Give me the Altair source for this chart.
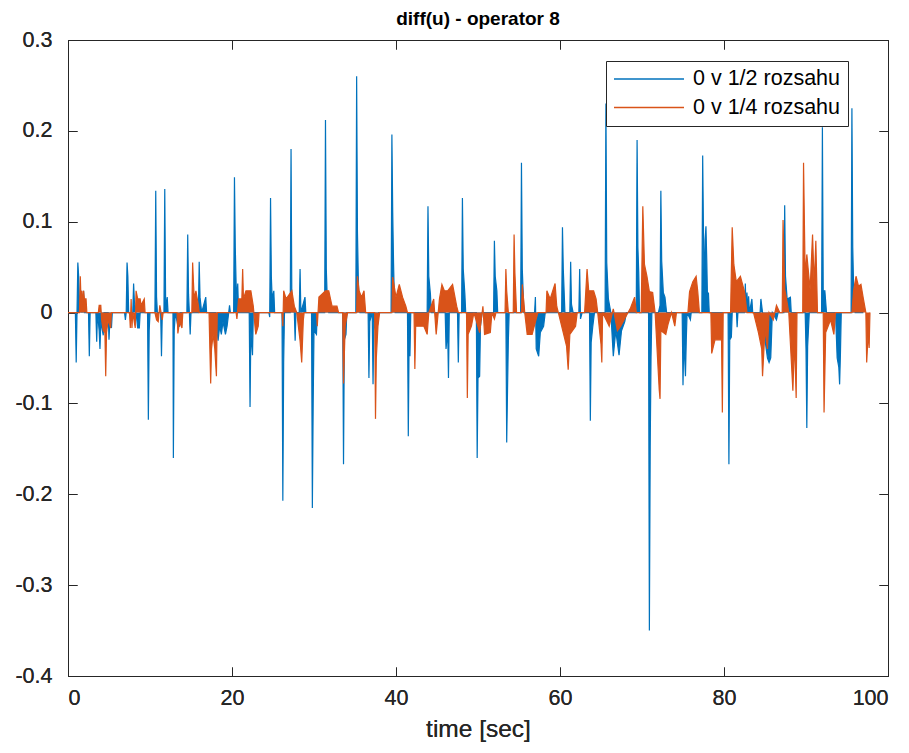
import altair as alt
import pandas as pd

# (time [s], value) samples
blue_pts = [
    (0.0, 0), (0.9, 0), (1.0, -0.055), (1.1, 0), (1.2, 0.055), (1.3, 0.04), (1.4, 0.01), (1.6, 0.024), (1.7, 0), (1.9, 0.024), (2.0, 0),
    (2.5, 0), (2.6, -0.048), (2.7, 0), (3.4, 0), (3.5, -0.032), (3.6, 0), (3.8, -0.02), (3.9, -0.04), (4.0, -0.01), (4.3, -0.025), (4.4, 0),
    (4.9, 0), (5.0, -0.03), (5.1, -0.01), (5.3, -0.017), (5.4, 0), (6.9, 0), (7.0, -0.008), (7.1, 0), (7.2, 0.055), (7.3, 0.04), (7.4, 0),
    (7.9, 0), (8.0, 0.032), (8.1, 0.012), (8.3, 0), (8.5, -0.017), (8.7, -0.017), (8.8, 0), (9.7, 0), (9.8, -0.118), (9.9, -0.02), (10.0, 0),
    (10.6, 0), (10.7, 0.134), (10.8, 0.017), (10.9, 0), (11.3, 0), (11.4, -0.048), (11.5, 0), (11.7, 0), (11.8, 0.136), (11.9, 0.017),
    (12.0, 0.005), (12.1, 0.017), (12.2, 0), (12.8, 0), (12.85, -0.16), (12.95, -0.02), (13.1, 0), (13.4, -0.015), (13.6, -0.015), (13.7, 0),
    (14.5, 0), (14.6, 0.086), (14.7, 0.02), (14.8, 0), (14.9, -0.024), (15.0, 0), (15.9, 0), (16.0, 0.056), (16.1, 0.017), (16.3, 0),
    (16.8, 0.017), (16.9, 0), (18.0, 0), (18.3, -0.031), (18.5, -0.015), (18.7, -0.024), (18.9, -0.01), (19.2, -0.024), (19.4, -0.015),
    (19.6, 0), (19.7, 0.008), (19.8, 0), (20.2, 0), (20.3, 0.149), (20.4, 0.072), (20.5, 0.032), (20.6, 0.015), (20.7, 0.032), (20.8, 0),
    (22.1, 0), (22.2, -0.104), (22.3, -0.02), (22.5, -0.047), (22.6, 0), (24.5, 0), (24.6, -0.005), (24.7, 0.126), (24.8, 0.039),
    (24.9, 0.015), (25.1, 0.024), (25.2, 0), (26.1, 0), (26.2, -0.207), (26.3, -0.055), (26.4, 0), (27.1, 0), (27.2, 0.18), (27.3, 0.01),
    (27.6, 0), (27.7, -0.031), (27.8, 0), (28.2, 0), (28.3, 0.048), (28.4, 0), (28.9, 0.017), (29.0, 0), (29.7, 0), (29.8, -0.215),
    (29.9, -0.1), (30.0, -0.02), (30.3, -0.024), (30.4, 0), (31.3, 0), (31.4, 0.212), (31.5, 0.048), (31.6, 0.02), (31.8, 0),
    (33.5, 0), (33.6, -0.167), (33.7, -0.03), (33.9, -0.024), (34.0, 0), (35.1, 0), (35.2, 0.26), (35.3, 0.088), (35.4, 0.04),
    (35.5, 0.005), (35.6, 0), (36.6, 0), (36.7, -0.072), (36.8, -0.01), (37.1, 0), (37.2, -0.079), (37.3, -0.01), (37.6, -0.024),
    (37.8, -0.008), (37.9, 0), (39.4, 0), (39.5, 0.196), (39.6, 0.11), (39.7, 0.055), (39.8, 0.015), (39.9, 0), (41.4, 0),
    (41.5, -0.136), (41.6, -0.03), (41.7, -0.048), (41.8, 0), (43.8, 0), (43.9, 0.117), (44.0, 0.04), (44.2, 0.02), (44.3, 0),
    (46.0, 0), (46.1, -0.04), (46.3, -0.02), (46.4, -0.072), (46.5, 0), (47.5, 0), (47.6, -0.055), (47.7, 0), (48.0, 0), (48.1, 0.126),
    (48.2, 0.048), (48.4, 0.02), (48.5, 0), (49.8, 0), (49.9, -0.16), (50.0, -0.072), (50.2, -0.07), (50.3, -0.015), (50.5, 0),
    (51.9, 0), (52.0, 0.079), (52.1, 0.04), (52.3, 0.024), (52.4, 0), (53.4, 0), (53.5, -0.143), (53.6, -0.086), (53.7, -0.031),
    (53.8, 0), (55.2, 0), (55.3, 0.165), (55.4, 0.048), (55.6, 0), (56.9, 0), (57.0, 0.017), (57.1, -0.04), (57.4, -0.048),
    (57.6, -0.022), (58.0, -0.015), (58.2, 0), (60.2, 0), (60.3, 0.094), (60.4, 0.048), (60.6, 0), (61.2, 0), (61.3, 0.056),
    (61.4, 0.009), (61.6, 0), (62.3, 0), (62.4, 0.048), (62.5, -0.007), (62.7, 0), (63.6, 0), (63.7, -0.119), (63.8, -0.033),
    (64.0, -0.015), (64.2, 0), (65.5, 0), (65.6, 0.23), (65.7, 0.055), (65.9, 0.015), (66.2, 0), (66.5, -0.048), (66.8, -0.02),
    (67.2, -0.047), (67.5, -0.02), (67.9, -0.01), (68.1, 0), (69.3, 0), (69.4, 0.19), (69.5, 0.072), (69.6, 0.045), (69.7, 0),
    (70.8, 0), (70.9, -0.35), (71.0, -0.148), (71.1, -0.05), (71.2, 0), (72.0, 0), (72.2, 0.008), (72.3, 0.134), (72.4, 0.057),
    (72.6, 0.022), (72.8, 0.017), (73.0, 0), (74.9, 0), (75.0, -0.08), (75.1, -0.03), (75.3, -0.07), (75.4, -0.03), (75.5, 0),
    (75.9, -0.008), (76.0, 0), (77.3, 0), (77.4, 0.173), (77.5, 0.087), (77.6, 0.02), (77.7, 0.08), (77.8, 0.095), (77.9, 0.057),
    (78.0, 0.01), (78.1, 0.022), (78.2, 0), (80.5, 0), (80.6, -0.167), (80.7, -0.03), (80.9, -0.027), (81.0, 0), (81.4, 0.024),
    (81.6, -0.016), (81.7, 0), (82.5, 0), (82.6, 0.032), (82.7, 0), (82.8, 0.022), (82.9, 0), (83.0, 0.018), (83.1, 0), (83.4, 0.015),
    (83.5, 0), (84.4, 0), (84.5, 0.015), (84.7, 0), (85.0, -0.03), (85.3, -0.05), (85.5, -0.055), (85.7, -0.05), (85.9, 0),
    (86.4, -0.008), (86.6, 0), (87.3, 0), (87.4, 0.118), (87.5, 0.04), (87.7, 0.015), (88.1, 0.017), (88.2, 0), (89.9, 0),
    (90.0, -0.04), (90.1, -0.127), (90.2, -0.037), (90.4, 0), (91.9, 0), (92.0, 0.204), (92.1, 0.024), (92.3, 0.024), (92.5, 0),
    (93.6, 0), (93.8, -0.05), (94.0, -0.06), (94.1, -0.079), (94.2, -0.045), (94.3, 0), (95.5, 0), (95.6, 0.225), (95.7, 0.072),
    (95.8, 0.03), (96.0, 0), (97.0, 0),
]

orange_pts = [
    (0.0, 0), (1.4, 0), (1.5, 0.04), (1.6, 0.01), (1.7, 0.024), (1.8, 0.007), (1.9, 0.024), (2.0, 0.015), (2.2, 0.015), (2.3, 0),
    (3.7, 0), (3.8, 0.008), (4.0, 0.008), (4.1, -0.008), (4.3, -0.02), (4.5, -0.022), (4.6, -0.07), (4.7, -0.022), (4.9, -0.008),
    (5.2, -0.017), (5.3, 0), (7.5, 0), (7.6, -0.017), (7.7, 0.015), (7.8, -0.017), (7.9, 0), (8.2, -0.017), (8.3, 0.024), (8.5, 0.015),
    (8.8, 0.015), (8.9, 0.008), (9.3, 0.015), (9.4, 0), (10.6, 0), (10.8, -0.008), (11.0, -0.01), (11.2, 0.008), (11.5, -0.008),
    (11.6, 0), (13.3, 0), (13.4, -0.023), (13.6, -0.01), (13.9, -0.017), (14.0, 0), (15.1, 0), (15.2, 0.055), (15.3, 0.033),
    (15.4, 0.015), (15.6, 0.024), (15.9, 0.008), (16.0, 0), (17.2, 0), (17.3, -0.04), (17.4, -0.078), (17.5, -0.04), (17.7, -0.024),
    (17.9, -0.04), (18.1, -0.07), (18.2, 0), (20.5, 0), (20.6, -0.007), (20.8, 0.015), (21.2, 0.015), (21.3, 0.048), (21.4, 0.015),
    (21.7, 0.024), (22.3, 0.024), (22.6, 0.007), (22.8, -0.015), (22.9, -0.024), (23.2, -0.015), (23.3, 0), (26.1, 0), (26.2, -0.015),
    (26.3, 0.024), (26.6, 0.015), (27.3, 0.024), (27.6, 0.007), (27.9, 0), (28.3, -0.031), (28.5, -0.055), (28.7, -0.008), (28.8, 0),
    (30.3, 0), (30.4, -0.015), (30.6, 0.017), (31.4, 0.024), (31.8, 0.024), (32.2, 0.007), (32.8, 0.007), (33.0, 0), (33.5, 0),
    (33.6, -0.078), (33.8, -0.015), (34.1, 0), (35.2, 0), (35.3, 0.04), (35.5, 0.024), (35.8, 0.017), (36.1, 0.024), (36.3, 0),
    (37.4, 0), (37.5, -0.117), (37.6, -0.05), (37.8, -0.015), (38.0, 0), (39.5, 0), (39.6, 0.039), (40.0, 0.017), (40.4, 0.031),
    (40.8, 0.017), (41.2, 0.007), (41.4, 0), (42.2, 0), (42.3, -0.062), (42.4, -0.015), (42.8, -0.015), (43.4, -0.015), (43.8, -0.024),
    (44.0, 0), (44.6, 0.015), (44.9, -0.024), (45.3, 0.015), (45.6, 0.031), (45.9, 0.024), (46.3, 0.024), (46.9, 0.031), (47.4, 0.007),
    (47.6, 0), (48.6, 0), (48.7, -0.094), (48.8, -0.024), (49.2, -0.015), (49.5, 0), (50.2, -0.022), (50.6, 0.007), (50.8, -0.024),
    (51.5, -0.022), (51.7, 0), (52.0, -0.007), (52.2, 0), (53.3, 0), (53.4, 0.048), (53.5, 0.024), (53.7, 0), (54.3, 0), (54.4, 0.086),
    (54.5, 0.044), (54.7, 0), (55.3, 0), (55.4, 0.031), (55.7, 0), (56.0, -0.024), (56.6, -0.024), (57.1, -0.007), (57.3, 0), (58.3, 0),
    (58.4, 0.024), (58.8, 0.015), (59.4, 0.032), (59.6, 0.007), (59.8, 0), (60.8, -0.037), (61.0, -0.063), (61.2, -0.024), (61.9, -0.015),
    (62.1, 0), (63.0, 0), (63.3, 0.048), (63.5, 0.024), (64.1, 0.024), (64.4, 0.015), (64.6, 0), (65.0, -0.035), (65.1, -0.055),
    (65.2, 0), (66.0, -0.015), (66.5, 0.004), (67.0, -0.02), (67.4, -0.015), (68.3, 0), (68.6, 0.005), (69.1, 0.017), (69.3, 0),
    (69.9, 0), (70.1, 0.117), (70.3, 0.053), (70.6, 0.04), (70.9, 0.023), (71.3, 0.022), (71.6, 0), (72.1, -0.085), (72.2, -0.095),
    (72.3, -0.02), (72.6, -0.022), (72.9, -0.024), (73.2, -0.012), (73.6, 0), (74.0, -0.015), (74.2, 0), (75.6, 0), (75.8, 0.023),
    (76.2, 0.034), (76.6, 0.04), (76.8, 0.023), (77.0, 0), (78.4, 0), (78.5, -0.045), (78.9, -0.03), (79.5, -0.03), (79.7, -0.03),
    (79.8, -0.11), (79.9, 0), (80.8, 0), (81.0, 0.094), (81.2, 0.053), (81.5, 0.034), (82.0, 0.04), (82.5, 0.023), (82.8, 0),
    (83.6, 0), (84.2, -0.022), (84.6, -0.04), (84.7, -0.07), (85.0, -0.018), (85.3, -0.04), (85.5, 0), (86.0, -0.008), (86.4, 0.008),
    (86.8, 0), (87.1, 0), (87.2, 0.102), (87.4, 0.026), (87.7, 0.011), (87.9, 0), (88.4, -0.086), (88.6, -0.03), (88.8, -0.094),
    (88.9, 0), (89.6, 0), (89.7, 0.165), (89.9, 0.04), (90.1, 0.064), (90.5, 0.025), (90.8, 0.086), (91.0, 0.03), (91.2, 0.079),
    (91.4, 0), (92.1, 0), (92.2, -0.11), (92.4, -0.022), (93.0, -0.008), (93.4, -0.024), (93.6, 0), (95.6, 0), (95.8, 0.024),
    (96.1, 0.04), (96.4, 0.029), (96.7, 0.031), (97.0, 0.015), (97.3, 0), (97.4, -0.055), (97.6, -0.02), (97.7, -0.039), (97.8, 0),
]

series_names = ["0 v 1/2 rozsahu", "0 v 1/4 rozsahu"]
series_colors = ["#0072BD", "#D95319"]
x_ticks = [0, 20, 40, 60, 80, 100]
y_ticks = [-0.4, -0.3, -0.2, -0.1, 0, 0.1, 0.2, 0.3]

df_blue = pd.DataFrame({"t": [p[0] for p in blue_pts], "v": [p[1] for p in blue_pts], "s": series_names[0]})
df_orange = pd.DataFrame({"t": [p[0] for p in orange_pts], "v": [p[1] for p in orange_pts], "s": series_names[1]})

FONT = "Liberation Sans"
AX = "#262626"
TICK = 9

xscale = alt.Scale(domain=[0, 100], nice=False, zero=False)
yscale = alt.Scale(domain=[-0.4, 0.3], nice=False, zero=False)


def make_legend():
    return alt.Legend(
        orient="none", legendX=538, legendY=21, fillColor="white", strokeColor=AX,
        padding=7, symbolType="stroke", symbolSize=4900, symbolStrokeWidth=1.5,
        clipHeight=22, labelFont=FONT, labelFontSize=21.5, labelColor="black",
        labelOffset=8, rowPadding=6.5,
    )


stroke_enc = alt.Stroke("s:N", scale=alt.Scale(domain=series_names, range=series_colors),
                        legend=make_legend(), title=None)
fill_enc = alt.Fill("s:N", scale=alt.Scale(domain=series_names, range=series_colors),
                    legend=make_legend(), title=None)

ylabel_expr = "datum.value == 0 ? '0' : toString(round(datum.value * 10) / 10)"

ax_bottom = alt.Axis(orient="bottom", values=x_ticks, title="time [sec]", offset=-TICK, tickSize=TICK,
                     domain=False, grid=False, labelPadding=11, titlePadding=9, titleFontSize=24.5,
                     titleFontWeight="normal", titleFont=FONT, titleColor=AX)
ax_left = alt.Axis(orient="left", values=y_ticks, title=None, offset=-TICK, tickSize=TICK,
                   domain=False, grid=False, labelPadding=16, labelExpr=ylabel_expr)
ax_top = alt.Axis(orient="top", values=x_ticks, title=None, offset=-TICK, tickSize=TICK,
                  domain=False, grid=False, labels=False)
ax_right = alt.Axis(orient="right", values=y_ticks, title=None, offset=-TICK, tickSize=TICK,
                    domain=False, grid=False, labels=False)


def series_layers(df, xaxis, yaxis):
    area = alt.Chart(df).mark_area(opacity=1, clip=True).encode(
        x=alt.X("t:Q", scale=xscale, axis=xaxis),
        y=alt.Y("v:Q", scale=yscale, axis=yaxis, stack=None),
        fill=fill_enc,
    )
    line = alt.Chart(df).mark_line(strokeWidth=1.2, clip=True).encode(
        x=alt.X("t:Q", scale=xscale, axis=xaxis),
        y=alt.Y("v:Q", scale=yscale, axis=yaxis),
        stroke=stroke_enc,
    )
    return [area, line]


layers = series_layers(df_blue, ax_bottom, ax_left) + series_layers(df_orange, ax_top, ax_right)

chart = alt.layer(*layers).properties(
    width=820, height=636,
    autosize=alt.AutoSizeParams(type="none"),
    padding={"left": 60, "top": 32, "right": 13, "bottom": 69},
    background="white",
    title=alt.Title("diff(u) - operator 8", font=FONT, fontSize=19, fontWeight="bold",
                    color="black", anchor="middle", offset=0),
).configure_view(
    stroke=AX, strokeWidth=1
).configure_axis(
    labelFont=FONT, labelFontSize=21.5, labelColor=AX, tickColor=AX, tickWidth=1
)

chart.save("out.html", embed_options={"renderer": "svg", "actions": False})
